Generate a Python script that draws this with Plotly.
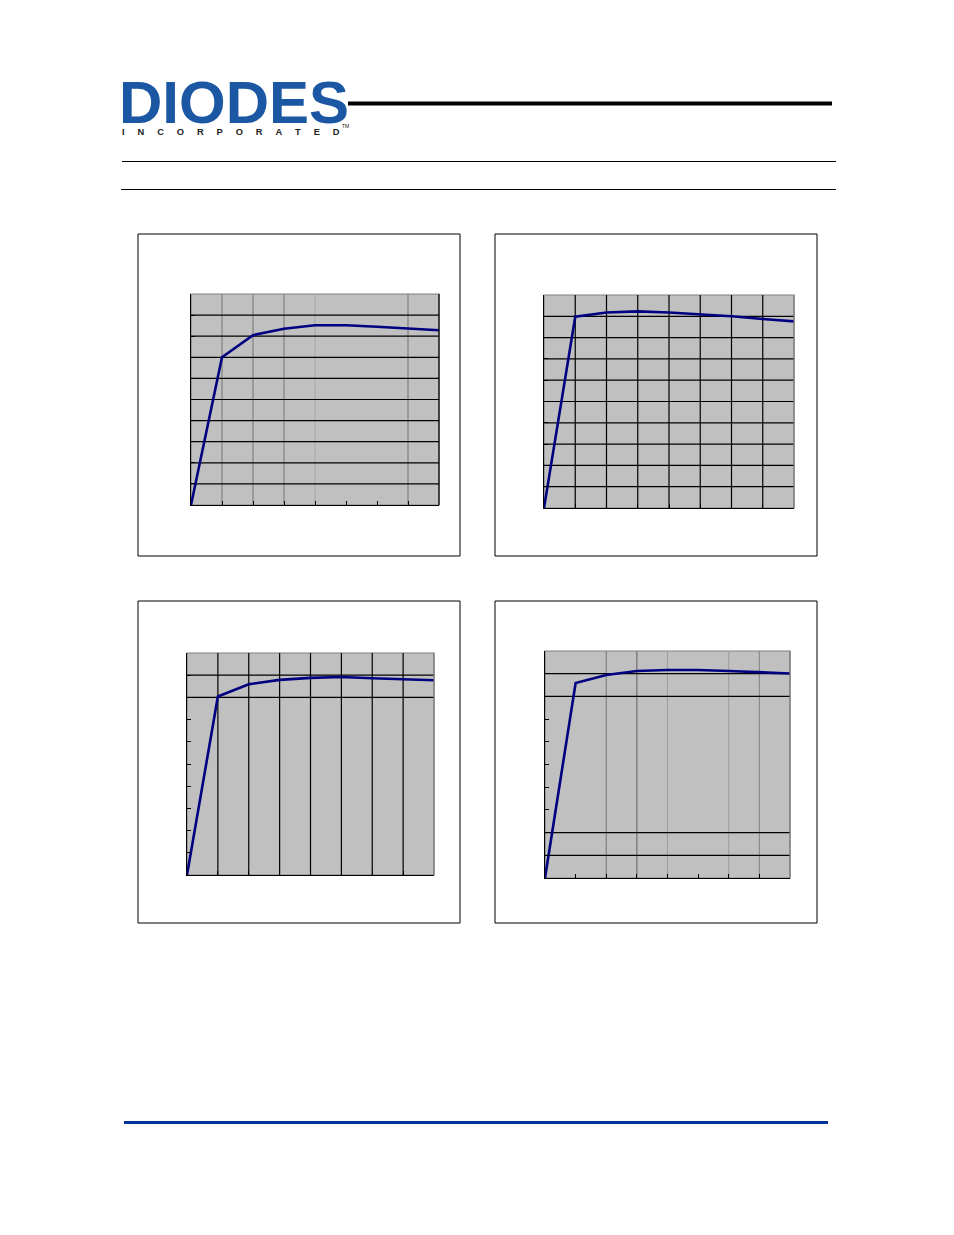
import plotly.graph_objects as go

# ---------------- data ----------------
x_vals = [0, 1, 2, 3, 4, 5, 6, 7, 8]
series_1 = [0, 7.0, 8.05, 8.35, 8.52, 8.52, 8.45, 8.38, 8.28]
series_2 = [0, 8.98, 9.18, 9.23, 9.18, 9.10, 9.00, 8.87, 8.76]
series_3 = [0, 8.04, 8.59, 8.79, 8.88, 8.92, 8.86, 8.82, 8.77]
series_4 = [0, 8.59, 8.94, 9.12, 9.16, 9.16, 9.12, 9.06, 9.01]
x_ticks = [0, 1, 2, 3, 4, 5, 6, 7, 8]
y_ticks = [0, 1, 2, 3, 4, 5, 6, 7, 8, 9, 10]
logo_word = "DIODES"
logo_sub = "INCORPORATED"

# page body has an 8px margin in the browser; compensate
OFF = 8
FW, FH = 954 - 2 * OFF, 1235 - 2 * OFF


def px(x):
    return (x - OFF) / FW


def py(y):
    return 1 - (y - OFF) / FH


# plot-area pixel boxes (left, top, right, bottom) and panel boxes
panels = [
    dict(series=series_1, plot=(191, 294, 439, 505), box=(138, 234, 460, 556), right="#000000",
         vgrid=[(1, "#808080"), (2, "#808080"), (3, "#808080"), (4, "#a8a8a8"), (7, "#808080")],
         hgrid=[1, 2, 3, 4, 5, 6, 7, 8, 9]),
    dict(series=series_2, plot=(544, 295, 794, 508), box=(495, 234, 817, 556), right="#808080",
         vgrid=[(v, "#000000") for v in [1, 2, 3, 4, 5, 6, 7]],
         hgrid=[1, 2, 3, 4, 5, 6, 7, 8, 9]),
    dict(series=series_3, plot=(187, 653, 434, 875), box=(138, 601, 460, 923), right="#808080",
         vgrid=[(v, "#000000") for v in [1, 2, 3, 4, 5, 6, 7]],
         hgrid=[8, 9]),
    dict(series=series_4, plot=(545, 651, 790, 878), box=(495, 601, 817, 923), right="#808080",
         vgrid=[(2, "#808080"), (3, "#707070"), (4, "#a0a0a0"), (6, "#a0a0a0"), (7, "#8c8c8c")],
         hgrid=[1, 2, 8, 9]),
]

fig = go.Figure()
shapes = []
annotations = []
layout_axes = {}

for i, p in enumerate(panels, start=1):
    xa = "x" if i == 1 else f"x{i}"
    ya = "y" if i == 1 else f"y{i}"
    l, t, r, b = p["plot"]
    fig.add_trace(go.Scatter(
        x=x_vals, y=p["series"], mode="lines", xaxis=xa, yaxis=ya,
        line=dict(color="#000080", width=2.6), showlegend=False, hoverinfo="skip",
    ))
    common = dict(showgrid=False, zeroline=False, showticklabels=False,
                  ticks="inside", ticklen=4, tickcolor="#000000", tickwidth=1,
                  showline=True, linecolor="#000000", linewidth=1.2, fixedrange=True)
    layout_axes["xaxis" if i == 1 else f"xaxis{i}"] = dict(
        domain=[px(l), px(r)], range=[0, 8], tickvals=x_ticks,
        anchor=ya, **common)
    layout_axes["yaxis" if i == 1 else f"yaxis{i}"] = dict(
        domain=[py(b), py(t)], range=[0, 10], tickvals=y_ticks,
        anchor=xa, **common)
    # gray plot border (top/right)
    shapes.append(dict(type="rect", xref=f"{xa} domain", yref=f"{ya} domain",
                       x0=0, x1=1, y0=0, y1=1, line=dict(color="#808080", width=1.2),
                       layer="below"))
    shapes.append(dict(type="line", xref=f"{xa} domain", yref=f"{ya} domain",
                       x0=1, x1=1, y0=0, y1=1, line=dict(color=p["right"], width=1.2)))
    for v, c in p["vgrid"]:
        shapes.append(dict(type="line", xref=xa, yref=f"{ya} domain",
                           x0=v, x1=v, y0=0, y1=1, line=dict(color=c, width=1.2),
                           layer="below"))
    for v in p["hgrid"]:
        shapes.append(dict(type="line", xref=f"{xa} domain", yref=ya,
                           x0=0, x1=1, y0=v, y1=v, line=dict(color="#000000", width=1.2),
                           layer="below"))
    bl, bt, br, bb = p["box"]
    shapes.append(dict(type="rect", xref="paper", yref="paper",
                       x0=px(bl), x1=px(br), y0=py(bb), y1=py(bt),
                       line=dict(color="#000000", width=1)))

# page decoration lines
shapes.append(dict(type="line", xref="paper", yref="paper", x0=px(348), x1=px(832),
                   y0=py(103.5), y1=py(103.5), line=dict(color="#000000", width=4)))
shapes.append(dict(type="line", xref="paper", yref="paper", x0=px(122), x1=px(836),
                   y0=py(161.5), y1=py(161.5), line=dict(color="#000000", width=1)))
shapes.append(dict(type="line", xref="paper", yref="paper", x0=px(121), x1=px(836),
                   y0=py(189.5), y1=py(189.5), line=dict(color="#000000", width=1)))
shapes.append(dict(type="line", xref="paper", yref="paper", x0=px(124), x1=px(828),
                   y0=py(1122.5), y1=py(1122.5), line=dict(color="#003399", width=3)))

# logo
annotations.append(dict(text=f"<b>{logo_word}</b>", x=px(117), y=py(103), xref="paper", yref="paper",
                        xanchor="left", yanchor="middle", showarrow=False,
                        font=dict(family="Liberation Sans", size=60, color="#1b57a3")))
spaced = ("\u00a0" * 5).join(logo_sub)
annotations.append(dict(text=f"<b>{spaced}</b>", x=px(120), y=py(132), xref="paper", yref="paper",
                        xanchor="left", yanchor="middle", showarrow=False,
                        font=dict(family="Liberation Sans", size=9.3, color="#222222")))
annotations.append(dict(text="TM", x=px(345), y=py(126), xref="paper", yref="paper",
                        xanchor="center", yanchor="middle", showarrow=False,
                        font=dict(family="Liberation Sans", size=5, color="#222222")))

fig.update_layout(
    width=FW, height=FH, margin=dict(l=0, r=0, t=0, b=0),
    paper_bgcolor="#ffffff", plot_bgcolor="#c0c0c0",
    shapes=shapes, annotations=annotations, showlegend=False,
    **layout_axes,
)
fig.write_html("out.html", config={"displayModeBar": False})
